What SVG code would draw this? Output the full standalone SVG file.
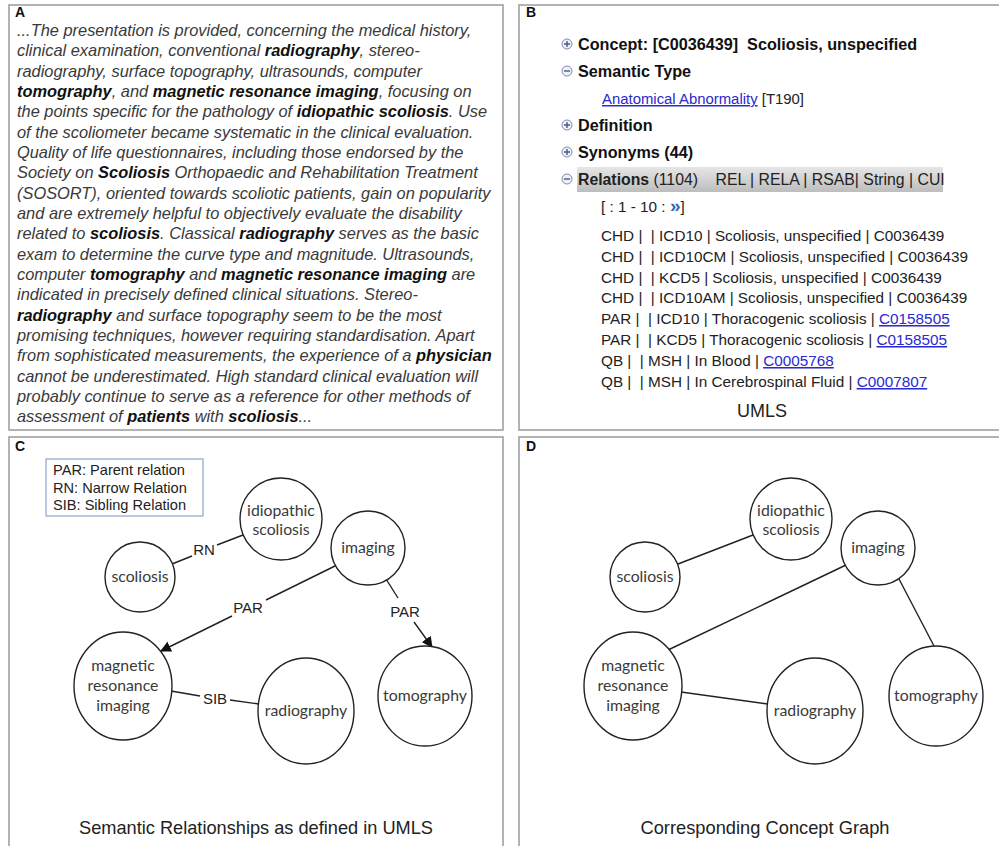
<svg xmlns="http://www.w3.org/2000/svg" width="999" height="846" viewBox="0 0 999 846">
<defs>
<style>
.panel{fill:#fff;stroke:#9a9a9a;stroke-width:1.5}
.lbl{font-family:"Liberation Sans",Arial,sans-serif;font-weight:bold;font-size:14px;fill:#111}
.pa{font-family:"Liberation Sans",Arial,sans-serif;font-style:italic;font-size:16.4px;fill:#3a3a3a}
.pa tspan.b{font-weight:bold;fill:#111}
.bh{font-family:"Liberation Sans",Arial,sans-serif;font-weight:bold;font-size:16.2px;fill:#111;white-space:pre}
.br{font-family:"Liberation Sans",Arial,sans-serif;font-size:15.3px;fill:#222;white-space:pre}
.lnk{fill:#2a2ad0;text-decoration:underline}
.node{fill:#fff;stroke:#222;stroke-width:1.4}
.nt{font-family:Lato,"Open Sans",sans-serif;font-size:15.8px;fill:#3a3a3a;text-anchor:middle}
.edge{stroke:#222;stroke-width:1.4;fill:none}
.el{font-family:"Liberation Sans",Arial,sans-serif;font-size:15px;fill:#222;text-anchor:middle}
.leg{font-family:"Liberation Sans",Arial,sans-serif;font-size:14.6px;fill:#222}
.cap{font-family:"Liberation Sans",Arial,sans-serif;font-size:19px;fill:#222;text-anchor:middle}
.ico{fill:#eef1f8;stroke:#7d8db0;stroke-width:1}
.icl{stroke:#4a5a88;stroke-width:1.4}
</style>
<marker id="arr" viewBox="0 0 10 10" refX="9" refY="5" markerWidth="11" markerHeight="11" markerUnits="userSpaceOnUse" orient="auto">
<path d="M0,0 L10,5 L0,10 z" fill="#111"/>
</marker>
<linearGradient id="bar" x1="0" y1="0" x2="0" y2="1">
<stop offset="0" stop-color="#e6e6e6"/>
<stop offset="1" stop-color="#bdbdbd"/>
</linearGradient>
</defs>
<rect width="999" height="846" fill="#fff"/>

<g id="panelA">
<rect class="panel" x="9" y="5" width="494" height="425"/>
<text class="lbl" x="15" y="17">A</text>
<text class="pa" x="17" y="36">...The presentation is provided, concerning the medical history,</text>
<text class="pa" x="17" y="56.3">clinical examination, conventional <tspan class="b">radiography</tspan>, stereo-</text>
<text class="pa" x="17" y="76.7">radiography, surface topography, ultrasounds, computer</text>
<text class="pa" x="17" y="97"><tspan class="b">tomography</tspan>, and <tspan class="b">magnetic resonance imaging</tspan>, focusing on</text>
<text class="pa" x="17" y="117.3">the points specific for the pathology of <tspan class="b">idiopathic scoliosis</tspan>. Use</text>
<text class="pa" x="17" y="137.7">of the scoliometer became systematic in the clinical evaluation.</text>
<text class="pa" x="17" y="158">Quality of life questionnaires, including those endorsed by the</text>
<text class="pa" x="17" y="178.3">Society on <tspan class="b">Scoliosis</tspan> Orthopaedic and Rehabilitation Treatment</text>
<text class="pa" x="17" y="198.7">(SOSORT), oriented towards scoliotic patients, gain on popularity</text>
<text class="pa" x="17" y="219">and are extremely helpful to objectively evaluate the disability</text>
<text class="pa" x="17" y="239.3">related to <tspan class="b">scoliosis</tspan>. Classical <tspan class="b">radiography</tspan> serves as the basic</text>
<text class="pa" x="17" y="259.7">exam to determine the curve type and magnitude. Ultrasounds,</text>
<text class="pa" x="17" y="280">computer <tspan class="b">tomography</tspan> and <tspan class="b">magnetic resonance imaging</tspan> are</text>
<text class="pa" x="17" y="300.3">indicated in precisely defined clinical situations. Stereo-</text>
<text class="pa" x="17" y="320.7"><tspan class="b">radiography</tspan> and surface topography seem to be the most</text>
<text class="pa" x="17" y="341">promising techniques, however requiring standardisation. Apart</text>
<text class="pa" x="17" y="361.3">from sophisticated measurements, the experience of a <tspan class="b">physician</tspan></text>
<text class="pa" x="17" y="381.7">cannot be underestimated. High standard clinical evaluation will</text>
<text class="pa" x="17" y="402">probably continue to serve as a reference for other methods of</text>
<text class="pa" x="17" y="422.3">assessment of <tspan class="b">patients</tspan> with <tspan class="b">scoliosis</tspan>...</text>
</g>

<g id="panelB">
<rect class="panel" x="519" y="5" width="485" height="425"/>
<text class="lbl" x="526" y="17">B</text>
<g id="b-concept">
<circle class="ico" cx="567" cy="44" r="5"/><path class="icl" d="M564,44 h6 M567,41 v6"/>
<text class="bh" x="578" y="50">Concept: [C0036439]  Scoliosis, unspecified</text>
</g>
<g id="b-semtype">
<circle class="ico" cx="567" cy="71" r="5"/><path class="icl" d="M564,71 h6"/>
<text class="bh" x="578" y="77">Semantic Type</text>
<text class="br" x="602" y="104" style="font-size:14.9px"><tspan class="lnk">Anatomical Abnormality</tspan> [T190]</text>
</g>
<g id="b-def">
<circle class="ico" cx="567" cy="125" r="5"/><path class="icl" d="M564,125 h6 M567,122 v6"/>
<text class="bh" x="578" y="131">Definition</text>
</g>
<g id="b-syn">
<circle class="ico" cx="567" cy="152" r="5"/><path class="icl" d="M564,152 h6 M567,149 v6"/>
<text class="bh" x="578" y="158">Synonyms (44)</text>
</g>
<g id="b-rel">
<rect x="577" y="167" width="366" height="25" fill="url(#bar)"/>
<circle class="ico" cx="567" cy="179" r="5"/><path class="icl" d="M564,179 h6"/>
<text class="br" x="578" y="185" style="font-size:15.8px"><tspan font-weight="bold">Relations</tspan> (1104)    REL | RELA | RSAB| String | CUI</text>
<text class="br" x="601" y="212">[ : 1 - 10 : <tspan fill="#2a6ab8" font-weight="bold" style="font-size:19px">»</tspan>]</text>
<text class="br" x="601" y="241">CHD |  | ICD10 | Scoliosis, unspecified | C0036439</text>
<text class="br" x="601" y="262">CHD |  | ICD10CM | Scoliosis, unspecified | C0036439</text>
<text class="br" x="601" y="283">CHD |  | KCD5 | Scoliosis, unspecified | C0036439</text>
<text class="br" x="601" y="303">CHD |  | ICD10AM | Scoliosis, unspecified | C0036439</text>
<text class="br" x="601" y="324">PAR |  | ICD10 | Thoracogenic scoliosis | <tspan class="lnk">C0158505</tspan></text>
<text class="br" x="601" y="345">PAR |  | KCD5 | Thoracogenic scoliosis | <tspan class="lnk">C0158505</tspan></text>
<text class="br" x="601" y="366">QB |  | MSH | In Blood | <tspan class="lnk">C0005768</tspan></text>
<text class="br" x="601" y="387">QB |  | MSH | In Cerebrospinal Fluid | <tspan class="lnk">C0007807</tspan></text>
</g>
<text class="cap" x="762" y="417" style="font-size:18px">UMLS</text>
</g>

<g id="panelC">
<rect class="panel" x="9" y="437" width="494" height="420"/>
<text class="lbl" x="15" y="451">C</text>
<g id="legend">
<rect x="46" y="459" width="157" height="57" fill="#fff" stroke="#8ea6cc" stroke-width="1.2"/>
<text class="leg" x="53" y="475">PAR: Parent relation</text>
<text class="leg" x="53" y="493">RN: Narrow Relation</text>
<text class="leg" x="53" y="510">SIB: Sibling Relation</text>
</g>
<g id="c-edges">
<line class="edge" x1="172" y1="564" x2="192" y2="556"/>
<line class="edge" x1="217" y1="545" x2="243" y2="535"/>
<text class="el" x="204" y="555">RN</text>
<line class="edge" x1="337" y1="565" x2="266" y2="600"/>
<line class="edge" x1="232" y1="616" x2="161" y2="651" marker-end="url(#arr)"/>
<text class="el" x="248" y="613">PAR</text>
<line class="edge" x1="386" y1="579" x2="398" y2="598"/>
<line class="edge" x1="414" y1="622" x2="432" y2="647" marker-end="url(#arr)"/>
<text class="el" x="405" y="617">PAR</text>
<line class="edge" x1="171" y1="691" x2="200" y2="696"/>
<line class="edge" x1="230" y1="700" x2="259" y2="704"/>
<text class="el" x="215" y="704">SIB</text>
</g>
<g id="c-scoliosis"><circle class="node" cx="140" cy="577" r="35"/><text class="nt" x="140" y="582">scoliosis</text></g>
<g id="c-idiopathic"><circle class="node" cx="281" cy="519" r="41"/><text class="nt" x="281" y="516">idiopathic</text><text class="nt" x="281" y="535">scoliosis</text></g>
<g id="c-imaging"><circle class="node" cx="368" cy="548" r="37"/><text class="nt" x="368" y="553">imaging</text></g>
<g id="c-mri"><ellipse class="node" cx="123" cy="686" rx="49" ry="54"/><text class="nt" x="123" y="671">magnetic</text><text class="nt" x="123" y="691">resonance</text><text class="nt" x="123" y="711">imaging</text></g>
<g id="c-radiography"><ellipse class="node" cx="306" cy="711" rx="48" ry="53"/><text class="nt" x="306" y="716">radiography</text></g>
<g id="c-tomography"><ellipse class="node" cx="425" cy="696" rx="47" ry="50"/><text class="nt" x="425" y="701">tomography</text></g>
<text class="cap" x="256" y="834" textLength="354" lengthAdjust="spacingAndGlyphs">Semantic Relationships as defined in UMLS</text>
</g>

<g id="panelD">
<rect class="panel" x="519" y="437" width="485" height="420"/>
<text class="lbl" x="526" y="451">D</text>
<g id="d-edges">
<line class="edge" x1="678" y1="564" x2="753" y2="535"/>
<line class="edge" x1="846" y1="565" x2="668" y2="650"/>
<line class="edge" x1="899" y1="579" x2="934" y2="646"/>
<line class="edge" x1="681" y1="692" x2="768" y2="704"/>
</g>
<g id="d-scoliosis"><circle class="node" cx="645" cy="577" r="35"/><text class="nt" x="645" y="582">scoliosis</text></g>
<g id="d-idiopathic"><circle class="node" cx="791" cy="519" r="41"/><text class="nt" x="791" y="516">idiopathic</text><text class="nt" x="791" y="535">scoliosis</text></g>
<g id="d-imaging"><circle class="node" cx="878" cy="548" r="37"/><text class="nt" x="878" y="553">imaging</text></g>
<g id="d-mri"><ellipse class="node" cx="633" cy="686" rx="49" ry="54"/><text class="nt" x="633" y="671">magnetic</text><text class="nt" x="633" y="691">resonance</text><text class="nt" x="633" y="711">imaging</text></g>
<g id="d-radiography"><ellipse class="node" cx="815" cy="711" rx="48" ry="53"/><text class="nt" x="815" y="716">radiography</text></g>
<g id="d-tomography"><ellipse class="node" cx="936" cy="696" rx="47" ry="50"/><text class="nt" x="936" y="701">tomography</text></g>
<text class="cap" x="765" y="834" textLength="249" lengthAdjust="spacingAndGlyphs">Corresponding Concept Graph</text>
</g>
</svg>
